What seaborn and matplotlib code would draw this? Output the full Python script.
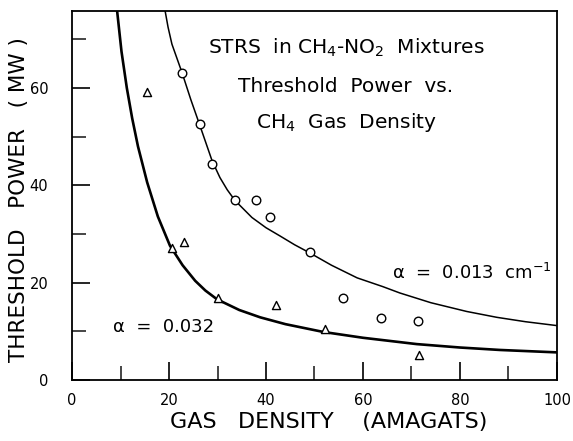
import matplotlib
matplotlib.use("Agg")
import matplotlib.pyplot as plt
import seaborn as sns

# measured points
circle_density = [22.6, 26.3, 28.8, 33.7, 37.9, 40.9, 49.0, 55.9, 63.8, 71.4]
circle_power = [63.1, 52.7, 44.3, 36.9, 36.9, 33.5, 26.3, 16.9, 12.7, 12.2]

triangle_density = [15.4, 20.6, 23.0, 30.0, 42.0, 52.1, 71.6]
triangle_power = [59.2, 27.1, 28.4, 16.9, 15.5, 10.4, 5.1]

# fitted curves
upper_density = [19.2, 19.8, 20.6, 22.7, 24.5, 26.4, 28.9, 30.5, 32.0, 33.6,
                 37.1, 40.0, 42.9, 45.9, 48.9, 53.5, 58.8, 64.1, 67.6, 74.0,
                 81.4, 87.6, 93.5, 100.0]
upper_power = [75.8, 72.5, 69.0, 63.1, 57.6, 52.2, 45.0, 41.6, 39.1, 36.9,
               33.4, 31.3, 29.6, 27.8, 26.2, 23.6, 21.0, 19.2, 17.9, 15.9,
               14.1, 12.9, 12.0, 11.2]

lower_density = [9.3, 10.2, 11.3, 12.4, 13.6, 15.5, 17.7, 20.2, 22.8, 25.4,
                 27.5, 29.9, 34.5, 38.8, 44.0, 51.8, 60.0, 71.1, 80.0, 88.2,
                 100.0]
lower_power = [75.8, 67.5, 60.0, 53.8, 48.0, 40.6, 33.6, 27.6, 23.6, 20.4,
               18.4, 16.6, 14.4, 12.9, 11.5, 9.9, 8.7, 7.4, 6.7, 6.2,
               5.7]

x_ticks = [0, 20, 40, 60, 80, 100]
y_ticks = [0, 20, 40, 60]

sns.set_style("ticks")
plt.rcParams["font.family"] = ["DejaVu Sans"]
plt.rcParams["text.color"] = "black"
plt.rcParams["axes.labelcolor"] = "black"

fig = plt.figure(figsize=(5.73, 4.41), dpi=100)
ax = fig.add_axes([0.1257, 0.138, 0.8463, 0.837])

sns.lineplot(x=upper_density, y=upper_power, sort=False, estimator=None,
             color="black", linewidth=1.1, ax=ax)
sns.lineplot(x=lower_density, y=lower_power, sort=False, estimator=None,
             color="black", linewidth=1.9, ax=ax)
sns.scatterplot(x=circle_density, y=circle_power, marker="o", s=38,
                facecolor="white", edgecolor="black", linewidth=1.0, ax=ax, zorder=3)
sns.scatterplot(x=triangle_density, y=triangle_power, marker="^", s=34,
                facecolor="white", edgecolor="black", linewidth=1.0, ax=ax, zorder=3)

ax.set_xlim(0, 100)
ax.set_ylim(0, 75.8)
ax.set_xticks(x_ticks)
ax.set_yticks(y_ticks)
ax.set_xticks(range(10, 100, 20), minor=True)
ax.set_yticks(range(10, 76, 20), minor=True)
ax.tick_params(axis="both", which="major", direction="in", length=13, width=1.2,
               labelsize=10.5, pad=9, colors="black")
ax.tick_params(axis="both", which="minor", direction="in", length=10, width=1.2)
ax.tick_params(axis="y", pad=17)
for spine in ax.spines.values():
    spine.set_visible(True)
    spine.set_linewidth(1.3)
    spine.set_color("black")

ax.set_xlabel("GAS   DENSITY    (AMAGATS)", fontsize=16)
ax.xaxis.set_label_coords(0.53, -0.086)
ax.set_ylabel("THRESHOLD   POWER   ( MW )", fontsize=15.5)
ax.yaxis.set_label_coords(-0.088, 0.49)

ax.text(56.5, 68.2, "STRS  in CH$_4$-NO$_2$  Mixtures", fontsize=14.5,
        ha="center", va="center")
ax.text(56.5, 60.4, "Threshold  Power  vs.", fontsize=14.5, ha="center", va="center")
ax.text(56.5, 52.9, "CH$_4$  Gas  Density", fontsize=14.5, ha="center", va="center")
ax.text(8.5, 11.0, "α  =  0.032", fontsize=13, ha="left", va="center")
ax.text(66.0, 22.0, "α  =  0.013  cm$^{-1}$", fontsize=13, ha="left", va="center")

fig.savefig("out.png", dpi=100)
